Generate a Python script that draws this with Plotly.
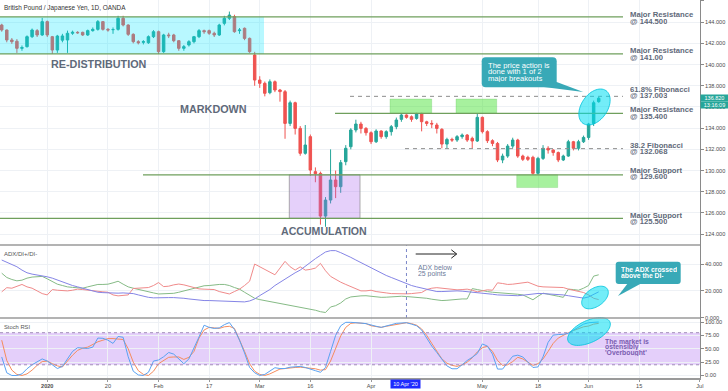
import numpy as np
import pandas as pd
import plotly.graph_objects as go
from plotly.subplots import make_subplots

# ---------------- data (GBP/JPY daily) ----------------
trading_days = [d for d in pd.bdate_range("2019-12-18", "2020-07-03")
                if d.strftime("%Y-%m-%d") not in ("2019-12-25", "2020-01-01")]

price_open = [143.73, 143.26, 142.32, 142.2, 141.53, 141.69, 142.63, 143.2, 142.79, 144.05,
              142.63, 141.37, 142.3, 142.32, 142.95, 143.04, 143.04, 142.79, 143.2, 143.32,
              144.05, 143.32, 143.3, 143.32, 144.36, 143.73, 142.85, 142.16, 142.1, 142.06,
              142.63, 143.1, 141.22, 142.79, 142.79, 142.25, 141.53, 141.85, 142.16, 142.63,
              143.2, 143.2, 142.95, 142.79, 143.89, 144.36, 144.52, 143.2, 143.42, 142.47,
              140.9, 138.54, 138.23, 137.35, 138.38, 137.6, 137.44, 134.45, 136.4, 133.98,
              131.63, 133.2, 129.9, 129.74, 125.71, 127.22, 129.11, 128.48, 130.84, 132.25,
              133.83, 134.39, 133.98, 133.57, 132.72, 133.73, 133.2, 133.67, 134.14, 134.83,
              135.24, 135.08, 134.92, 135.39, 134.6, 134.45, 134.3, 133.89, 132.5, 132.94,
              132.88, 133.2, 133.35, 133.04, 132.79, 135.02, 133.67, 132.82, 132.56, 131.0,
              131.37, 132.31, 132.88, 131.37, 131.25, 131.25, 129.74, 131.15, 132.1, 131.94,
              131.7, 131.0, 131.37, 132.72, 132.1, 132.72, 133.13, 134.45, 136.5]
price_close = [143.26, 142.32, 142.16, 141.53, 141.6, 142.63, 143.26, 142.79, 144.05, 142.79,
               141.37, 142.69, 142.7, 142.95, 143.04, 143.0, 142.79, 143.2, 143.32, 144.05,
               143.32, 143.26, 143.3, 144.36, 143.73, 142.85, 142.16, 142.06, 142.16, 142.63,
               143.1, 141.22, 142.79, 142.72, 142.25, 141.53, 141.69, 142.16, 142.63, 143.2,
               143.1, 142.95, 142.79, 143.73, 144.36, 144.67, 143.1, 143.26, 142.47, 141.22,
               138.54, 138.23, 137.29, 138.38, 137.6, 137.45, 134.45, 136.4, 133.98, 131.63,
               132.41, 130.05, 129.7, 125.71, 127.22, 129.11, 128.48, 130.75, 132.1, 133.83,
               134.39, 133.98, 133.57, 132.72, 133.73, 133.2, 133.67, 134.14, 134.77, 135.24,
               135.02, 134.83, 135.33, 134.61, 134.45, 134.4, 133.98, 132.5, 132.94, 132.88,
               133.2, 133.35, 132.88, 132.79, 135.02, 133.67, 132.82, 132.56, 131.0, 131.37,
               132.31, 132.88, 131.37, 131.06, 131.06, 129.74, 131.15, 132.1, 131.94, 131.7,
               131.0, 131.37, 132.72, 132.1, 132.72, 133.13, 134.39, 136.4, 136.82]
price_high = [143.85, 143.3, 142.5, 142.4, 141.8, 142.75, 143.4, 143.35, 144.4, 144.15,
              142.7, 142.8, 142.9, 143.2, 143.2, 143.15, 143.1, 143.3, 143.5, 144.2,
              144.1, 143.45, 143.5, 144.6, 144.6, 143.8, 142.95, 142.3, 142.3, 142.75,
              143.25, 143.2, 142.9, 143.0, 142.9, 142.3, 141.85, 142.3, 142.7, 143.35,
              143.3, 143.3, 143.1, 143.85, 144.6, 145.0, 144.7, 143.45, 143.5, 142.55,
              141.2, 138.9, 138.4, 138.6, 138.5, 137.7, 137.6, 136.6, 136.5, 134.2,
              134.3, 133.4, 130.3, 129.9, 127.5, 132.0, 130.0, 131.0, 132.4, 134.0,
              134.8, 134.6, 134.1, 133.7, 133.9, 133.8, 133.8, 134.3, 135.0, 135.4,
              135.3, 135.2, 135.45, 135.45, 134.7, 134.75, 134.5, 134.0, 133.1, 133.1,
              133.35, 133.5, 133.45, 133.2, 135.4, 135.1, 133.8, 132.95, 132.7, 131.6,
              132.5, 133.1, 133.0, 131.5, 131.4, 131.4, 131.3, 132.4, 132.3, 132.0,
              131.8, 131.5, 132.9, 132.8, 132.9, 133.3, 134.5, 136.6, 136.95]
price_low = [143.1, 142.1, 141.95, 141.1, 141.3, 141.6, 142.5, 142.6, 142.7, 142.6,
             141.0, 141.1, 142.1, 141.1, 142.8, 142.9, 142.7, 142.7, 143.1, 143.2,
             143.2, 143.1, 142.9, 143.2, 143.6, 142.7, 142.0, 141.9, 141.9, 141.95,
             142.5, 141.0, 141.1, 142.5, 142.1, 141.3, 141.3, 141.7, 142.0, 142.5,
             142.9, 142.8, 142.6, 142.7, 143.7, 144.2, 143.0, 142.9, 142.3, 141.1,
             138.0, 137.8, 137.0, 137.2, 137.4, 136.5, 133.0, 134.2, 133.4, 131.4,
             131.5, 129.5, 128.9, 124.9, 124.7, 126.9, 127.4, 127.9, 130.5, 132.0,
             133.6, 133.5, 133.3, 132.5, 132.6, 133.0, 133.0, 133.3, 133.9, 134.6,
             134.9, 134.6, 134.8, 133.7, 134.2, 134.0, 133.5, 132.1, 132.1, 132.7,
             132.7, 133.0, 132.7, 132.1, 132.7, 133.5, 132.6, 132.3, 130.8, 130.7,
             131.2, 132.1, 131.2, 130.9, 130.9, 129.6, 129.6, 131.0, 131.6, 131.4,
             130.8, 130.9, 131.3, 131.9, 131.9, 132.6, 132.9, 134.2, 136.4]

adx = [43.0, 41.5, 40, 38, 35.5, 33.5, 32.5, 32, 31.5, 30.5,
       29.5, 28, 26.5, 25, 24, 23, 22, 21, 20, 19,
       18.7, 18.5, 18.3, 18.3, 18.5, 18.3, 18, 17, 16, 15.2,
       14.8, 14.7, 14.8, 15, 15, 15, 14.5, 14, 13.5, 13,
       12.8, 12.8, 12.7, 12.5, 12.3, 12, 11.9, 11.8, 11.8, 12.5,
       14, 16.5, 18.5, 21, 24, 26.5, 29, 31.5, 33.5, 35.5,
       38.5, 41, 44, 46.5, 49, 50, 50, 48.5, 47, 45,
       43, 41, 39, 37, 35, 33, 31.5, 30, 28.5, 26.5,
       25.5, 24, 23, 22, 21, 20, 19.5, 19.5, 19.8, 20,
       20, 19.8, 19.5, 19, 18.8, 18.5, 18, 17.5, 17, 16.8,
       16.7, 16.5, 16.4, 16.8, 17.3, 17.8, 18.1, 18, 17.8, 17.5,
       17.3, 17, 16.4, 15.8, 15.2, 14.6, 15.5, 17.5, 19.3]
di_minus = [19.3, 22.4, 22, 23.5, 24.8, 23, 22, 20, 18, 17,
            21, 20.5, 20, 20, 20.5, 21.3, 21, 20.5, 20, 19.3,
            19.3, 19, 17, 16.3, 16.5, 17, 21.8, 22, 22.4, 22.5,
            24, 26.2, 23.2, 23.5, 24.5, 25.1, 24.5, 23.5, 23, 21.5,
            21.3, 21.3, 21, 19.5, 18.5, 17.7, 19.5, 21.3, 24, 27.2,
            40, 38, 35.6, 33.5, 32, 37, 42, 38, 35.5, 37.9,
            35.5, 36, 37, 40.5, 35, 30.8, 28.5, 26.5, 24.8, 23,
            21.5, 20, 20, 20.5, 19.5, 18.8, 18.5, 18, 17.8, 17.5,
            17.8, 18, 18.5, 18.8, 21, 22, 22.4, 22, 21.5, 21,
            20.8, 21, 21.3, 20.5, 19.3, 20, 20.8, 20.5, 26, 25.5,
            24.8, 25, 25.5, 25.8, 26.5, 25, 23.5, 23, 23, 23,
            23, 22.5, 21.3, 20.5, 20, 18.8, 17, 14.5, 13.5]
di_plus = [33.2, 30, 28.5, 27.5, 28, 29.5, 30.3, 30.5, 30.8, 29,
           27.2, 25, 24, 23, 22.6, 22.3, 22, 23, 24, 24.8,
           24.8, 25, 26, 27.2, 25, 23, 22, 21, 20, 19.3,
           18.5, 17.7, 17.8, 18, 18.2, 19, 20, 21, 21.5, 22.5,
           23.8, 24, 24.5, 24.8, 24.8, 24, 22.5, 21.3, 19, 17,
           14.5, 13.5, 12.8, 12, 11.3, 10.6, 10, 9.3, 8.5, 8,
           7.3, 6.5, 5.6, 4.5, 3.9, 8, 9, 11, 14, 15.5,
           16, 16.3, 16.4, 16, 15.5, 15.2, 15.3, 15.6, 15.8, 16,
           15.8, 15.5, 15.3, 15.2, 14.5, 13.8, 13.2, 12.8, 13, 13.4,
           13.7, 14, 14, 21.7, 21, 20, 19.5, 19, 18.8, 18.5,
           18.2, 17.8, 17.5, 17, 15, 13.4, 16, 18.3, 17.5, 17,
           16, 15.2, 21.3, 21, 20.5, 22, 24, 31, 32]
stoch_k = [34.6, 5, 0, 0, 3, 12.6, 20, 26, 31, 27,
           20, 13, 17, 30, 45, 52, 51, 50.5, 53, 70,
           69.5, 66, 60, 73, 71.5, 35, 8, 1, 0, 6,
           27, 29, 35, 43, 40, 30, 22, 31, 50, 72,
           94, 90, 88, 89, 95, 99, 86, 66, 42, 15,
           5, 0, 2, 8, 14.5, 13, 13, 15.5, 16.5, 17,
           15, 12.6, 9, 6, 15, 45, 75, 93, 99.4, 99.4,
           99.4, 98, 97, 94, 92, 90, 92, 95, 97.5, 98.5,
           98.7, 96, 93, 85, 70, 55, 43, 30, 18, 12.6,
           12.6, 20, 28, 34, 41, 59, 55, 40, 12, 12,
           25, 36, 38, 34.6, 25, 15, 16, 35, 62, 75.5,
           76.5, 77, 79, 85, 90, 96, 98.7, 99.5, 100]
stoch_d = [66, 28, 10, 2, 0, 3, 10, 19, 26, 27,
           22, 18, 16, 28, 38, 47, 51, 53, 58, 63,
           66, 69, 69, 67.5, 67.3, 50, 25, 9, 2, 0,
           8, 22, 28, 34, 34.6, 34.6, 30, 34, 45, 70,
           85, 90, 89, 88, 91, 92, 88, 68, 45, 22,
           8, 2, 0, 3, 7, 12, 13, 14.5, 15, 15.5,
           14.5, 13.5, 12.6, 10, 11, 27, 50, 74, 90, 97.5,
           98.5, 98, 97, 93, 91, 90, 92, 94, 96, 97.5,
           98.7, 97, 94, 87, 75, 60, 45, 31, 23, 19,
           17, 20, 25, 33, 44, 52, 54.7, 45, 28, 19,
           20, 26, 34, 31, 25, 19, 22, 31, 45, 60,
           70, 75.5, 80, 84, 88, 91, 92.5, 96, 97.5]

tick_dates = ["2020-01-02", "2020-01-20", "2020-02-03", "2020-02-17", "2020-03-02", "2020-03-16",
              "2020-04-01", "2020-05-01", "2020-05-18", "2020-06-01", "2020-06-15", "2020-07-01"]
tick_labels = ["<b>2020</b>", "20", "Feb", "17", "Mar", "16", "Apr", "May", "18", "Jun", "15", "Jul"]
cursor_date = "2020-04-10"
cursor_label = "10 Apr '20"

levels = [144.5, 141.0, 137.003, 135.4, 132.068, 129.6, 125.5]
level_names = ["Major Resistance", "Major Resistance", "61.8% Fibonacci", "Major Resistance",
               "38.2 Fibonacci", "Major Support", "Major Support"]
level_values = ["@ 144.500", "@ 141.00", "@ 137.003", "@ 135.400", "@ 132.068", "@ 129.600", "@ 125.500"]
level_dashed = [False, False, True, False, True, False, False]
last_price = "136.820"
countdown = "13:16:09"

# ---------------- helpers ----------------
day_str = [d.strftime("%Y-%m-%d") for d in trading_days]
pos = {s: i for i, s in enumerate(day_str)}
xi = list(range(len(price_open)))

W_PLOT, H_PLOT = 700.0, 378.0
def px(x): return x / W_PLOT
def py(y): return 1 - y / H_PLOT

FONT = "Liberation Sans"
UP, DN = "#26a69a", "#ef5350"
TEAL_BOX = "#38a9b7"
SLATE = "#5f6a7a"

def rounded_rect(x0, y0, x1, y1, r):
    P = lambda a, b: f"{px(a):.5f},{py(b):.5f}"
    return (f"M{P(x0+r, y0)} L{P(x1-r, y0)} Q{P(x1, y0)} {P(x1, y0+r)} "
            f"L{P(x1, y1-r)} Q{P(x1, y1)} {P(x1-r, y1)} L{P(x0+r, y1)} "
            f"Q{P(x0, y1)} {P(x0, y1-r)} L{P(x0, y0+r)} Q{P(x0, y0)} {P(x0+r, y0)} Z")

def polygon(pts):
    return "M" + " L".join(f"{px(a):.5f},{py(b):.5f}" for a, b in pts) + " Z"

def ellipse(cx, cy, a, b, ang_deg):
    t = np.linspace(0, 2 * np.pi, 60, endpoint=False)
    g = np.radians(ang_deg)
    xs = cx + a * np.cos(t) * np.cos(g) - b * np.sin(t) * np.sin(g)
    ys = cy - (a * np.cos(t) * np.sin(g) + b * np.sin(t) * np.cos(g))
    return polygon(list(zip(xs, ys)))

# ---------------- figure ----------------
fig = make_subplots(rows=3, cols=1, shared_xaxes=True, vertical_spacing=0,
                    row_heights=[245, 73, 60])

fig.add_trace(go.Candlestick(
    x=xi, open=price_open, high=price_high, low=price_low, close=price_close,
    increasing=dict(line=dict(color=UP, width=1), fillcolor=UP),
    decreasing=dict(line=dict(color=DN, width=1), fillcolor=DN),
    whiskerwidth=0, hoverinfo="skip"), row=1, col=1)

fig.add_trace(go.Scatter(x=xi, y=di_plus, mode="lines", line=dict(color="#86bb86", width=1)), row=2, col=1)
fig.add_trace(go.Scatter(x=xi, y=di_minus, mode="lines", line=dict(color="#f08a8a", width=1)), row=2, col=1)
fig.add_trace(go.Scatter(x=xi, y=adx, mode="lines", line=dict(color="#8585e6", width=1)), row=2, col=1)

fig.add_trace(go.Scatter(x=xi, y=stoch_d, mode="lines", line=dict(color="#f58c5e", width=1)), row=3, col=1)
fig.add_trace(go.Scatter(x=xi, y=stoch_k, mode="lines", line=dict(color="#5aa2f2", width=1)), row=3, col=1)

tickpos = [pos[d] for d in tick_dates]
grid = "#eef1f5"
fig.update_xaxes(range=[-0.34, 138.02], tickvals=tickpos, ticktext=tick_labels,
                 showgrid=True, gridcolor=grid, gridwidth=1, zeroline=False,
                 rangeslider_visible=False, automargin=False, showticklabels=False,
                 ticks="", showline=False)
fig.update_xaxes(showticklabels=True, ticks="outside", ticklen=2, tickcolor="#9a9a9a",
                 tickfont=dict(family=FONT, size=5.6, color="#4d4d4d"),
                 showline=True, linecolor="#9a9a9a", linewidth=1.5, row=3, col=1)

yax = dict(side="right", showgrid=True, gridcolor=grid, zeroline=False, automargin=False,
           showline=True, linecolor="#8a8a8a", linewidth=1, ticks="outside", ticklen=3,
           tickcolor="#8a8a8a", tickfont=dict(family=FONT, size=5.6, color="#4d4d4d"))
fig.update_yaxes(range=[122.98, 146.09], tick0=0, dtick=2, tickformat=".3f", row=1, col=1, **yax)
fig.update_yaxes(range=[-0.2, 54.2], tickvals=[0, 20, 40], tickformat=".3f", row=2, col=1, **yax)
fig.update_yaxes(range=[-4.7, 107.5], tickvals=[0, 25, 50, 75, 100], tickformat=".2f", row=3, col=1, **yax)

shapes = []
# zones
shapes.append(dict(type="rect", xref="paper", yref="y", x0=0, x1=px(264), y0=levels[1], y1=levels[0],
                   fillcolor="rgba(0,229,255,0.28)", line=dict(width=0), layer="above"))
shapes.append(dict(type="rect", xref="paper", yref="y", x0=px(289.3), x1=px(360), y0=levels[6], y1=levels[5],
                   fillcolor="rgba(170,100,240,0.3)", line=dict(color="rgba(140,140,140,0.7)", width=1), layer="above"))
for a, b in [(390, 431.7), (456, 496.7)]:
    shapes.append(dict(type="rect", xref="paper", yref="y", x0=px(a), x1=px(b), y0=levels[3], y1=136.75,
                       fillcolor="rgba(60,225,40,0.45)", line=dict(color="rgba(90,190,80,0.5)", width=0.5), layer="above"))
shapes.append(dict(type="rect", xref="paper", yref="y", x0=px(516.7), x1=px(557.7), y0=128.4, y1=levels[5],
                   fillcolor="rgba(60,225,40,0.45)", line=dict(color="rgba(90,190,80,0.5)", width=0.5), layer="above"))
# level lines
starts = [0, 0, 350, 335, 405, 143, 0]
for lv, st, dashed in zip(levels, starts, level_dashed):
    if dashed:
        ln = dict(color="#8c8c8c", width=1, dash="4px,4px")
    else:
        ln = dict(color="#6f9f5c", width=1.3)
    shapes.append(dict(type="line", xref="paper", yref="y", x0=px(st), x1=px(623), y0=lv, y1=lv,
                       line=ln, layer="above"))
# stoch band
shapes.append(dict(type="rect", xref="paper", yref="y3", x0=0, x1=1, y0=20, y1=80,
                   fillcolor="rgba(165,95,240,0.3)", line=dict(width=0), layer="below"))
for lv in (20, 80):
    shapes.append(dict(type="line", xref="paper", yref="y3", x0=0, x1=1, y0=lv, y1=lv,
                       line=dict(color="#a08cb8", width=1, dash="3px,3px"), layer="above"))
# cursor line
cx = pos[cursor_date]
shapes.append(dict(type="line", xref="x2", yref="y2 domain", x0=cx, x1=cx, y0=0, y1=1,
                   line=dict(color="#7b86c8", width=1, dash="dot"), layer="above"))
# ellipses
ell_fill = "rgba(0,222,242,0.55)"
ell_line = dict(color="rgba(0,195,220,0.8)", width=1)
for c in [(594.5, 107, 20, 13, 55), (595, 297.5, 15, 9, 35), (589, 331.5, 23, 11, 25)]:
    shapes.append(dict(type="path", xref="paper", yref="paper", path=ellipse(*c),
                       fillcolor=ell_fill, line=ell_line, layer="above"))
# callouts
shapes.append(dict(type="path", xref="paper", yref="paper",
                   path=polygon([(540, 86.5), (556.7, 82), (583.3, 92)]),
                   fillcolor=TEAL_BOX, line=dict(width=0), layer="above"))
shapes.append(dict(type="path", xref="paper", yref="paper", path=rounded_rect(481.7, 57.3, 556.7, 87.3, 4),
                   fillcolor=TEAL_BOX, line=dict(width=0), layer="above"))
shapes.append(dict(type="path", xref="paper", yref="paper",
                   path=polygon([(628, 283), (642, 283), (618, 296)]),
                   fillcolor=TEAL_BOX, line=dict(width=0), layer="above"))
shapes.append(dict(type="path", xref="paper", yref="paper", path=rounded_rect(615.7, 261.7, 680.7, 284, 3),
                   fillcolor=TEAL_BOX, line=dict(width=0), layer="above"))
# arrow
shapes.append(dict(type="path", xref="paper", yref="paper",
                   path=f"M{px(415.7)},{py(254)} L{px(456.5)},{py(254)} M{px(451.3)},{py(249.8)} L{px(456.7)},{py(254)} L{px(451.3)},{py(258.2)}",
                   line=dict(color="#222", width=1), layer="above"))
# panel separators
for yy in (245, 318):
    shapes.append(dict(type="line", xref="paper", yref="paper", x0=0, x1=1, y0=py(yy), y1=py(yy),
                       line=dict(color="#9a9a9a", width=1.5), layer="above"))

fig.update_layout(shapes=shapes)

ann = []
def text(x, y, s, size, color, bold=False, xanchor="left", **kw):
    ann.append(dict(xref="paper", yref="paper", x=px(x), y=py(y), text=(f"<b>{s}</b>" if bold else s),
                    showarrow=False, xanchor=xanchor, yanchor="middle",
                    font=dict(family=FONT, size=size, color=color), borderpad=0, **kw))

text(3, 7.5, "British Pound / Japanese Yen, 1D, OANDA", 6.4, "#333333")
text(3, 254, "ADX/DI+/DI-", 6, "#555555")
text(3, 327, "Stoch RSI", 5.8, "#555555")

text(99, 64.3, "RE-DISTRIBUTION", 10.8, SLATE, bold=True, xanchor="center")
text(213.5, 108.7, "MARKDOWN", 10.8, SLATE, bold=True, xanchor="center")
text(324, 230.8, "ACCUMULATION", 10.6, SLATE, bold=True, xanchor="center")

label_y = [(14.8, 21.6), (50.8, 57.4), (89, 95.8), (109.8, 116.4), (145, 151.7), (170, 176.7), (215, 221.5)]
for (y1, y2), nm, vl in zip(label_y, level_names, level_values):
    text(629, y1, nm, 7.7, SLATE, bold=True, height=7)
    text(629, y2, vl, 7.7, SLATE, bold=True, height=7)

for y, s in zip([65, 71.7, 78.5], ["The price action is", "done with 1 of 2", "major breakouts"]):
    text(486.5, y, s, 7.6, "white", height=7)
for y, s in zip([269.3, 275.3], ["The ADX crossed", "above the DI-"]):
    text(620, y, s, 6.8, "white", bold=True, height=6)
for y, s in zip([341, 347.2, 353.3], ["The market is", "ostensibly", "'Overbought'"]):
    text(604, y, s, 6.8, "#7a5cb0", bold=True, height=6)
for y, s in zip([267.3, 273.5], ["ADX below", "25 points"]):
    text(417.3, y, s, 6.9, "#6b7a99", height=6)

ann.append(dict(xref="paper", yref="paper", x=px(405.7), y=py(384.3), text=cursor_label, showarrow=False,
                xanchor="center", yanchor="middle", bgcolor="#1f2bff", width=29, height=8, borderpad=0,
                font=dict(family=FONT, size=5.5, color="white")))
ann.append(dict(xref="paper", yref="paper", x=px(700), y=py(98), text=last_price, showarrow=False,
                xanchor="left", yanchor="middle", bgcolor=UP, width=27, height=6, borderpad=0,
                font=dict(family=FONT, size=5.5, color="white")))
ann.append(dict(xref="paper", yref="paper", x=px(700), y=py(104.5), text=countdown, showarrow=False,
                xanchor="left", yanchor="middle", bgcolor=UP, width=27, height=6, borderpad=0,
                font=dict(family=FONT, size=5.5, color="white")))

fig.update_layout(annotations=ann, template="none", showlegend=False, width=728, height=391,
                  margin=dict(l=0, r=28, t=0, b=13, pad=0),
                  plot_bgcolor="white", paper_bgcolor="white", hovermode=False,
                  font=dict(family=FONT))

fig.write_html("out.html", config={"displayModeBar": False},
               post_script="document.body.style.margin='0';document.body.style.overflow='hidden';"
                           "document.documentElement.style.overflow='hidden';")
